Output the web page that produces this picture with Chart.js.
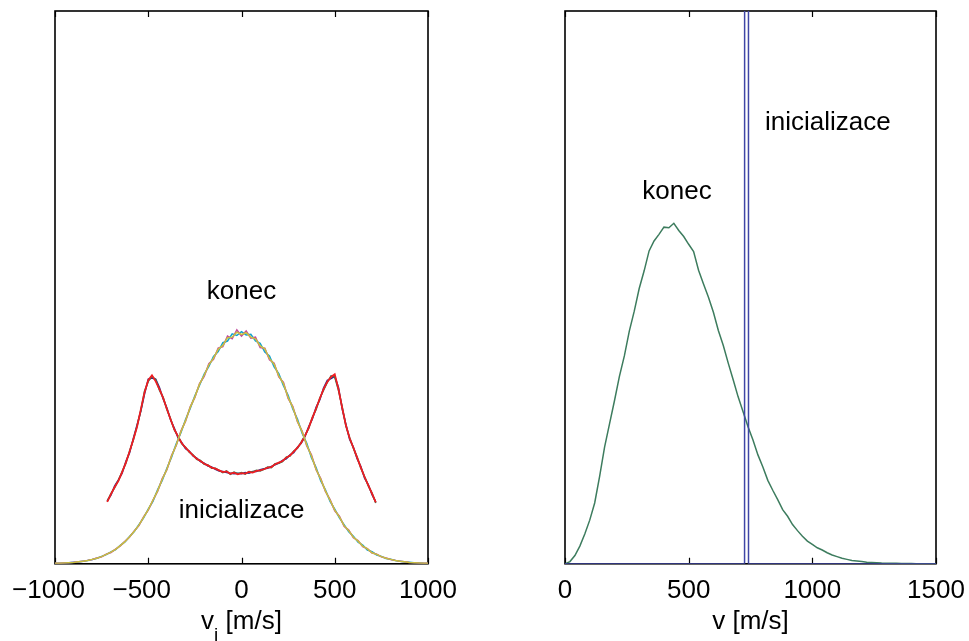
<!DOCTYPE html>
<html>
<head>
<meta charset="utf-8">
<script src="https://cdn.jsdelivr.net/npm/chart.js@4.4.1/dist/chart.umd.min.js"></script>
<style>
  html, body { margin: 0; padding: 0; background: #fff; }
  body { width: 969px; height: 641px; position: relative; overflow: hidden; }
  canvas { position: absolute; top: 0; }
  #left { left: 0; }
  #right { left: 484px; }
</style>
</head>
<body>
<canvas id="left" width="484" height="641"></canvas>
<canvas id="right" width="485" height="641"></canvas>
<script>
// ---- velocity component histograms (left panel) ----
const vxKonec = [-720,-700,-680,-660,-640,-620,-600,-580,-560,-540,-520,-500,-480,-460,-440,-420,-400,-380,-360,-340,
  -320,-300,-280,-260,-240,-220,-200,-180,-160,-140,-120,-100,-80,-60,-40,-20,0,20,40,60,
  80,100,120,140,160,180,200,220,240,260,280,300,320,340,360,380,400,420,440,460,
  480,500,520,540,560,580,600,620,640,660,680,700,720];

const konecVx = [
  11.4, 12.4, 14.1, 15.2, 16.4, 18.5, 20.1, 22.7, 25.1, 27.6,
  30.7, 33.4, 33.6, 33.4, 31.9, 29.8, 28.2, 26.0, 24.5, 22.8,
  21.9, 20.8, 20.4, 19.5, 19.1, 18.5, 18.2, 17.7, 17.5, 17.1,
  16.8, 16.7, 16.5, 16.4, 16.3, 16.4, 16.3, 16.5, 16.4, 16.7,
  16.7, 17.0, 17.2, 17.3, 17.6, 17.9, 18.2, 18.7, 19.0, 19.7,
  20.1, 21.1, 21.8, 23.0, 24.8, 26.2, 28.3, 29.7, 31.8, 33.2,
  33.5, 33.9, 31.9, 28.0, 25.2, 22.5, 21.1, 19.0, 17.6, 15.5,
  14.3, 12.5, 11.2];
const konecVy = [
  11.3, 12.7, 13.8, 15.1, 16.7, 18.2, 20.4, 22.4, 24.9, 27.7,
  31.2, 33.0, 33.9, 33.3, 31.4, 30.1, 27.9, 26.2, 24.2, 23.1,
  21.7, 21.1, 20.2, 19.7, 18.9, 18.7, 18.0, 17.9, 17.3, 17.3,
  16.9, 16.5, 16.8, 16.2, 16.6, 16.3, 16.5, 16.2, 16.7, 16.6,
  16.9, 16.8, 17.1, 17.5, 17.4, 18.1, 18.2, 18.5, 19.3, 19.5,
  20.4, 20.9, 22.0, 23.2, 24.5, 26.5, 27.9, 30.0, 31.4, 32.8,
  34.0, 33.8, 31.4, 28.4, 24.9, 22.8, 20.9, 19.3, 17.3, 15.8,
  14.1, 12.8, 11.0];
const konecVz = [
  11.2, 12.6, 13.9, 15.0, 16.6, 18.3, 20.3, 22.5, 24.8, 27.9,
  31.0, 33.2, 34.1, 33.0, 31.6, 30.0, 28.0, 26.1, 24.3, 23.0,
  21.8, 21.0, 20.3, 19.6, 19.0, 18.6, 18.1, 17.8, 17.4, 17.2,
  16.9, 16.6, 16.7, 16.3, 16.5, 16.2, 16.4, 16.3, 16.6, 16.5,
  16.8, 16.9, 17.1, 17.4, 17.5, 18.0, 18.3, 18.6, 19.2, 19.6,
  20.3, 21.0, 21.9, 23.1, 24.6, 26.4, 28.1, 29.9, 31.6, 32.9,
  33.8, 34.3, 31.6, 28.2, 25.0, 22.7, 21.0, 19.2, 17.4, 15.7,
  14.2, 12.7, 11.1];

const vxInit = [-1000,-975,-950,-925,-900,-875,-850,-825,-800,-775,-750,-725,-700,-675,-650,-625,-600,-575,-550,-525,
  -500,-475,-450,-425,-400,-375,-350,-325,-300,-275,-250,-225,-200,-175,-150,-125,-100,-75,-50,-25,
  0,25,50,75,100,125,150,175,200,225,250,275,300,325,350,375,400,425,450,475,
  500,525,550,575,600,625,650,675,700,725,750,775,800,825,850,875,900,925,950,975,1000];

const initVx = [
  0.07, 0.1, 0.14, 0.2, 0.27, 0.33, 0.47, 0.6, 0.78, 1.0,
  1.35, 1.65, 2.15, 2.55, 3.35, 3.95, 4.95, 5.85, 7.1, 8.3,
  9.9, 11.3, 13.4, 15.1, 17.3, 19.3, 21.7, 23.7, 26.1, 28.1,
  30.4, 32.3, 34.3, 35.7, 37.5, 38.4, 40.0, 40.3, 41.6, 41.3,
  42.0,
  41.4, 41.5, 40.3, 39.9, 38.3, 37.6, 35.6, 34.4, 32.2, 30.5,
  28.0, 26.2, 23.6, 21.8, 19.2, 17.4, 15.0, 13.4, 11.3, 9.9,
  8.3, 7.1, 5.8, 5.0, 3.9, 3.4, 2.5, 2.2, 1.6, 1.35,
  0.95, 0.82, 0.58, 0.47, 0.33, 0.27, 0.19, 0.16, 0.1, 0.07];
const initVy = [
  0.09, 0.11, 0.16, 0.19, 0.26, 0.36, 0.44, 0.62, 0.79, 1.05,
  1.25, 1.75, 2.05, 2.65, 3.25, 4.05, 4.85, 5.95, 6.9, 8.5,
  9.7, 11.5, 13.1, 15.4, 17.0, 19.6, 21.4, 24.0, 25.8, 28.4,
  30.1, 32.6, 33.9, 36.2, 37.0, 39.0, 39.3, 41.2, 40.7, 42.3,
  41.2,
  42.1, 40.8, 41.0, 39.1, 39.0, 36.9, 36.3, 33.8, 32.8, 29.9,
  28.5, 25.7, 24.0, 21.3, 19.7, 17.0, 15.4, 13.1, 11.6, 9.6,
  8.6, 6.8, 6.1, 4.7, 4.2, 3.1, 2.75, 1.95, 1.75, 1.25,
  1.05, 0.78, 0.62, 0.44, 0.37, 0.24, 0.21, 0.14, 0.11, 0.09];
const initVz = [
  0.08, 0.1, 0.15, 0.2, 0.25, 0.35, 0.45, 0.6, 0.8, 1.0,
  1.3, 1.7, 2.1, 2.6, 3.3, 4.0, 4.9, 5.9, 7.0, 8.4,
  9.8, 11.5, 13.2, 15.3, 17.1, 19.5, 21.5, 23.9, 25.9, 28.3,
  30.2, 32.5, 34.1, 36.0, 37.2, 38.8, 39.5, 40.9, 41.0, 41.9,
  41.5,
  41.8, 41.0, 40.7, 39.4, 38.9, 37.1, 36.1, 34.0, 32.6, 30.1,
  28.3, 25.8, 23.9, 21.5, 19.5, 17.1, 15.3, 13.2, 11.5, 9.7,
  8.5, 6.9, 6.0, 4.8, 4.1, 3.2, 2.7, 2.0, 1.7, 1.3,
  1.0, 0.8, 0.6, 0.45, 0.35, 0.25, 0.2, 0.15, 0.1, 0.08];

// ---- speed histograms (right panel) ----
const vSpeed = [0,20,40,60,80,100,120,140,160,180,200,220,240,260,280,300,320,340,360,380,
  400,420,440,460,480,500,520,540,560,580,600,620,640,660,680,700,720,740,760,780,
  800,820,840,860,880,900,920,940,960,980,1000,1020,1040,1060,1080,1100,1120,1140,1160,1180,
  1200,1220,1240,1260,1280,1300,1320,1340,1360,1380,1400,1420,1440,1460,1480,1500];
const speedKonec = [
  0.0, 0.4, 1.5, 3.2, 5.4, 7.9, 11.0, 15.8, 21.1, 25.3,
  29.5, 33.9, 37.6, 42.1, 45.7, 49.8, 53.0, 56.6, 58.4, 59.6,
  60.9, 60.8, 61.6, 60.3, 59.2, 57.8, 56.5, 53.1, 50.6, 48.2,
  45.5, 42.2, 39.5, 36.3, 33.3, 30.2, 27.5, 24.8, 22.4, 19.7,
  17.5, 15.1, 13.3, 11.6, 9.8, 8.6, 7.1, 6.0, 5.0, 4.1,
  3.5, 2.9, 2.5, 2.0, 1.6, 1.3, 1.0, 0.8, 0.6, 0.5,
  0.4, 0.3, 0.25, 0.2, 0.15, 0.12, 0.1, 0.08, 0.06, 0.05,
  0.04, 0.03, 0.02, 0.02, 0.01, 0.01];
// every particle starts with the same speed: a single tall bin
const vSpeedInit = [0, 726, 734, 742, 1500];
const speedInit  = [0, 0, 4000, 0, 0];

const xTicksLeft  = [-1000, -500, 0, 500, 1000];
const xTicksRight = [0, 500, 1000, 1500];

// ---- drawing ----
const FONT = '"Liberation Sans", Arial, Helvetica, sans-serif';
const pts = (xs, ys) => xs.map((x, i) => ({ x, y: ys[i] }));

const series = (label, xs, ys, color, order, width) => ({
  label, data: pts(xs, ys), borderColor: color, borderWidth: width || 1.5,
  pointRadius: 0, tension: 0, fill: false, order
});

// box, inward tick marks, in-plot labels and the x-axis title
const framePlugin = {
  id: 'frame',
  beforeDatasetsDraw(chart) {
    const { ctx, chartArea: a, scales: { x } } = chart;
    ctx.save();
    ctx.strokeStyle = '#000';
    ctx.lineWidth = 1.6;
    ctx.strokeRect(a.left, a.top, a.right - a.left, a.bottom - a.top);
    ctx.lineWidth = 1.2;
    x.ticks.forEach(t => {
      const px = Math.round(x.getPixelForValue(t.value)) + 0.5;
      ctx.beginPath();
      ctx.moveTo(px, a.bottom); ctx.lineTo(px, a.bottom - 6);
      ctx.moveTo(px, a.top);    ctx.lineTo(px, a.top + 6);
      ctx.stroke();
    });
    ctx.restore();
  },
  afterDraw(chart, args, opts) {
    const { ctx, chartArea: a, scales: { x, y } } = chart;
    ctx.save();
    ctx.fillStyle = '#000';
    ctx.font = '26px ' + FONT;
    ctx.textAlign = 'center';
    ctx.textBaseline = 'middle';
    (opts.notes || []).forEach(n => {
      ctx.fillText(n.text, x.getPixelForValue(n.x), y.getPixelForValue(n.y));
    });
    // axis title, with an optional subscript after the symbol
    const t = opts.title;
    ctx.textAlign = 'left';
    ctx.textBaseline = 'alphabetic';
    const bigFont = '26px ' + FONT, subFont = '19px ' + FONT;
    ctx.font = bigFont;
    const w1 = ctx.measureText(t.symbol).width;
    const w3 = ctx.measureText(t.unit).width;
    ctx.font = subFont;
    const w2 = t.sub ? ctx.measureText(t.sub).width : 0;
    const cx = (a.left + a.right) / 2;
    let xPos = cx - (w1 + w2 + w3) / 2;
    const base = t.baseline;
    ctx.font = bigFont;
    ctx.fillText(t.symbol, xPos, base);
    xPos += w1;
    if (t.sub) {
      ctx.font = subFont;
      ctx.fillText(t.sub, xPos, base + 12);
      xPos += w2;
    }
    ctx.font = bigFont;
    ctx.fillText(t.unit, xPos, base);
    ctx.restore();
  }
};

const tickLabel = v => v < 0 ? '\u2212' + Math.abs(v) + '\u2002' : String(v);

function makeOptions(xMin, xMax, tickVals, pad, notes, title) {
  return {
    responsive: false,
    animation: false,
    devicePixelRatio: 1,
    layout: { padding: pad },
    plugins: {
      legend: { display: false },
      tooltip: { enabled: false },
      frame: { notes, title }
    },
    scales: {
      x: {
        type: 'linear', min: xMin, max: xMax,
        afterBuildTicks: s => { s.ticks = tickVals.map(v => ({ value: v })); },
        // edge labels may hang into the page margin; keep the plot box fixed
        afterFit: s => { s.paddingLeft = 0; s.paddingRight = 0; },
        grid: { display: false, drawTicks: false },
        border: { display: false },
        ticks: {
          autoSkip: false, maxRotation: 0, minRotation: 0, padding: 11,
          color: '#000', font: { family: FONT, size: 26 },
          callback: tickLabel
        }
      },
      y: { type: 'linear', min: 0, max: 100, display: false }
    }
  };
}

new Chart(document.getElementById('left'), {
  type: 'line',
  data: {
    datasets: [
      series('vx konec', vxKonec, konecVx, '#2a2d8c', 6),
      series('vy konec', vxKonec, konecVy, '#2f7a50', 5),
      series('vz konec', vxKonec, konecVz, '#f01c22', 4, 1.8),
      series('vx inicializace', vxInit, initVx, '#12a2cf', 3),
      series('vy inicializace', vxInit, initVy, '#c04a9c', 2),
      series('vz inicializace', vxInit, initVz, '#c9c03e', 1)
    ]
  },
  options: makeOptions(-1000, 1000, xTicksLeft,
    { left: 55, right: 56, top: 11, bottom: 24 },
    [{ text: 'konec', x: 0, y: 49.2 }, { text: 'inicializace', x: 0, y: 9.5 }],
    { symbol: 'v', sub: 'i', unit: ' [m/s]', baseline: 629 }),
  plugins: [framePlugin]
});

new Chart(document.getElementById('right'), {
  type: 'line',
  data: {
    datasets: [
      series('inicializace', vSpeedInit, speedInit, '#3f46a6', 1),
      series('konec', vSpeed, speedKonec, '#3d7c5e', 2)
    ]
  },
  options: makeOptions(0, 1500, xTicksRight,
    { left: 81, right: 33, top: 11, bottom: 24 },
    [{ text: 'konec', x: 453, y: 67.2 }, { text: 'inicializace', x: 1063, y: 79.8 }],
    { symbol: 'v', sub: '', unit: ' [m/s]', baseline: 629 }),
  plugins: [framePlugin]
});
</script>
</body>
</html>
